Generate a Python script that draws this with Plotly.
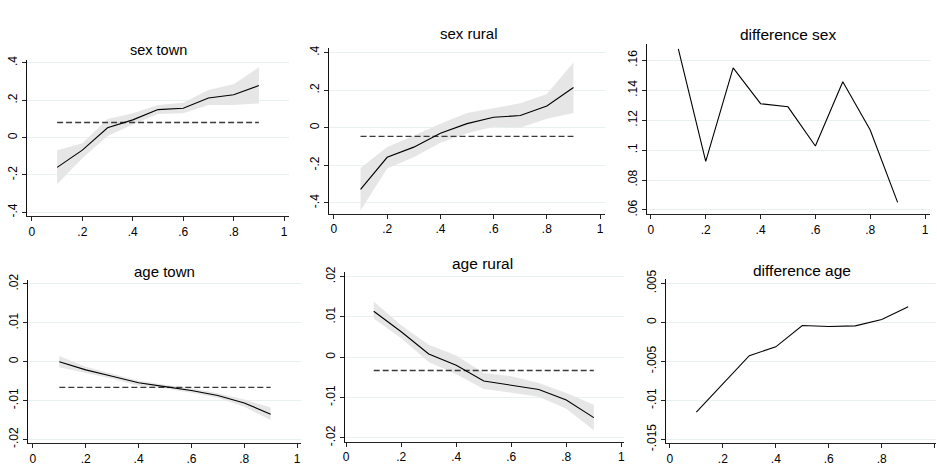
import plotly.graph_objects as go

W, H = 937, 466

# ---------------- data ----------------
quantiles = [0.1, 0.2, 0.3, 0.4, 0.5, 0.6, 0.7, 0.8, 0.9]

sex_town = [-0.159, -0.067, 0.053, 0.095, 0.150, 0.157, 0.212, 0.229, 0.279]
sex_town_lo = [-0.250, -0.110, 0.009, 0.070, 0.126, 0.130, 0.174, 0.174, 0.183]
sex_town_hi = [-0.067, -0.030, 0.100, 0.130, 0.174, 0.186, 0.255, 0.286, 0.376]
sex_town_ols = 0.081

sex_rural = [-0.328, -0.157, -0.103, -0.029, 0.022, 0.056, 0.065, 0.116, 0.214]
sex_rural_lo = [-0.440, -0.217, -0.157, -0.080, -0.029, 0.005, 0.000, 0.048, 0.079]
sex_rural_hi = [-0.214, -0.103, -0.043, 0.022, 0.079, 0.103, 0.130, 0.180, 0.347]
sex_rural_ols = -0.046

diff_sex = [0.1677, 0.0924, 0.1549, 0.1310, 0.1289, 0.1027, 0.1456, 0.1134, 0.0651]

age_town = [0.0000, -0.0021, -0.00375, -0.0054, -0.0064, -0.0074, -0.0087, -0.0106, -0.0135]
age_town_lo = [-0.0014, -0.0029, -0.0044, -0.0062, -0.0069, -0.0080, -0.0093, -0.0116, -0.0150]
age_town_hi = [0.0015, -0.0013, -0.0031, -0.0049, -0.0059, -0.0068, -0.0081, -0.0097, -0.0118]
age_town_ols = -0.0066

age_rural = [0.0114, 0.0063, 0.0008, -0.0020, -0.0059, -0.0069, -0.0080, -0.0106, -0.0150]
age_rural_lo = [0.0096, 0.0047, -0.0012, -0.0042, -0.0079, -0.0088, -0.0098, -0.0128, -0.0181]
age_rural_hi = [0.0138, 0.0079, 0.0031, 0.0004, -0.0039, -0.0047, -0.0064, -0.0089, -0.0118]
age_rural_ols = -0.0033

diff_age = [-0.0115, -0.0079, -0.00426, -0.00314, -0.0004, -0.00054, -0.00045, 0.00037, 0.0020]

x_tickvals = [0, 0.2, 0.4, 0.6, 0.8, 1]
x_ticktext = ["0", ".2", ".4", ".6", ".8", "1"]

sex_yvals = [-0.4, -0.2, 0, 0.2, 0.4]
sex_ytext = ["-.4", "-.2", "0", ".2", ".4"]
dsex_yvals = [0.06, 0.08, 0.10, 0.12, 0.14, 0.16]
dsex_ytext = [".06", ".08", ".1", ".12", ".14", ".16"]
age_yvals = [-0.02, -0.01, 0, 0.01, 0.02]
age_ytext = ["-.02", "-.01", "0", ".01", ".02"]
dage_yvals = [-0.015, -0.01, -0.005, 0, 0.005]
dage_ytext = ["-.015", "-.01", "-.005", "0", ".005"]

# ---------------- layout geometry (pixels) ----------------
panels = [
    dict(title="sex town", y=sex_town, lo=sex_town_lo, hi=sex_town_hi, ols=sex_town_ols,
         yv=sex_yvals, yt=sex_ytext,
         left=25, right=288, top=52, bottom=214.5, xt0=30, xt1=283,
         ya=(0.4, 55), yb=(-0.4, 210.5), tx=157, ty=42, ts=14.5),
    dict(title="sex rural", y=sex_rural, lo=sex_rural_lo, hi=sex_rural_hi, ols=sex_rural_ols,
         yv=sex_yvals, yt=sex_ytext,
         left=328, right=605, top=40, bottom=212, xt0=333, xt1=600,
         ya=(0.4, 44.3), yb=(-0.4, 200.7), tx=469, ty=24, ts=15),
    dict(title="difference sex", y=diff_sex, lo=None, hi=None, ols=None,
         yv=dsex_yvals, yt=dsex_ytext,
         left=647, right=931, top=35, bottom=212.7, xt0=651, xt1=926,
         ya=(0.16, 52.3), yb=(0.06, 208), tx=789, ty=26, ts=15.5),
    dict(title="age town", y=age_town, lo=age_town_lo, hi=age_town_hi, ols=age_town_ols,
         yv=age_yvals, yt=age_ytext,
         left=26, right=300, top=280.7, bottom=450.7, xt0=31, xt1=296,
         ya=(0.02, 285), yb=(-0.02, 446.7), tx=163, ty=271.5, ts=15),
    dict(title="age rural", y=age_rural, lo=age_rural_lo, hi=age_rural_hi, ols=age_rural_ols,
         yv=age_yvals, yt=age_ytext,
         left=344, right=623.7, top=272.7, bottom=449.3, xt0=345.3, xt1=621.3,
         ya=(0.02, 277.3), yb=(-0.02, 445), tx=482, ty=264, ts=15.5),
    dict(title="difference age", y=diff_age, lo=None, hi=None, ols=None,
         yv=dage_yvals, yt=dage_ytext,
         left=665.7, right=937, top=280, bottom=450.7, xt0=670, xt1=935.7,
         ya=(0.005, 284.3), yb=(-0.015, 446.7), tx=803, ty=271, ts=15.5),
]


def rng(pa, va, pb, vb, p_lo, p_hi):
    k = (vb - va) / (pb - pa)
    return [va + (p_lo - pa) * k, va + (p_hi - pa) * k]


FONT = "Liberation Sans, Arial, sans-serif"
TICK = 12
fig = go.Figure()
layout = dict(width=W, height=H, margin=dict(l=0, r=0, t=0, b=0),
              paper_bgcolor="white", plot_bgcolor="white", showlegend=False,
              font=dict(family=FONT, color="black", size=TICK))
annotations = []

for i, p in enumerate(panels):
    n = "" if i == 0 else str(i + 1)
    xa, ya = "x" + n, "y" + n
    if p["lo"] is not None:
        fig.add_trace(go.Scatter(
            x=quantiles + quantiles[::-1], y=p["hi"] + p["lo"][::-1],
            fill="toself", fillcolor="#e6e6e6", line=dict(width=0),
            mode="lines", hoverinfo="skip", xaxis=xa, yaxis=ya))
        fig.add_trace(go.Scatter(
            x=[quantiles[0], quantiles[-1]], y=[p["ols"], p["ols"]],
            mode="lines", line=dict(color="#3a3a3a", width=1.3, dash="6px,3px"),
            xaxis=xa, yaxis=ya))
    fig.add_trace(go.Scatter(
        x=quantiles, y=p["y"], mode="lines",
        line=dict(color="black", width=1.1), xaxis=xa, yaxis=ya))

    xr = rng(p["xt0"], 0, p["xt1"], 1, p["left"], p["right"])
    yr = rng(p["ya"][1], p["ya"][0], p["yb"][1], p["yb"][0], p["bottom"], p["top"])
    layout["xaxis" + n] = dict(
        domain=[p["left"] / W, min(1, p["right"] / W)], range=xr, anchor=ya,
        showline=True, linecolor="#222", linewidth=1, showgrid=False, zeroline=False,
        ticks="outside", ticklen=4, tickcolor="#222", tickwidth=1,
        tickvals=x_tickvals, ticktext=x_ticktext, tickfont=dict(size=TICK, family=FONT))
    layout["yaxis" + n] = dict(
        domain=[1 - p["bottom"] / H, 1 - p["top"] / H], range=yr, anchor=xa,
        showline=True, linecolor="#111", linewidth=1, showgrid=True,
        gridcolor="#e8f0f1", gridwidth=1, zeroline=False,
        ticks="outside", ticklen=4, tickcolor="#222", tickwidth=1,
        tickvals=p["yv"], ticktext=p["yt"], tickangle=-90,
        tickfont=dict(size=TICK, family=FONT))
    annotations.append(dict(text=p["title"], x=p["tx"] / W, y=1 - p["ty"] / H,
                            xref="paper", yref="paper", xanchor="center", yanchor="middle",
                            showarrow=False, font=dict(size=p["ts"], family=FONT, color="black")))

layout["annotations"] = annotations
fig.update_layout(**layout)
fig.write_html("out.html")
